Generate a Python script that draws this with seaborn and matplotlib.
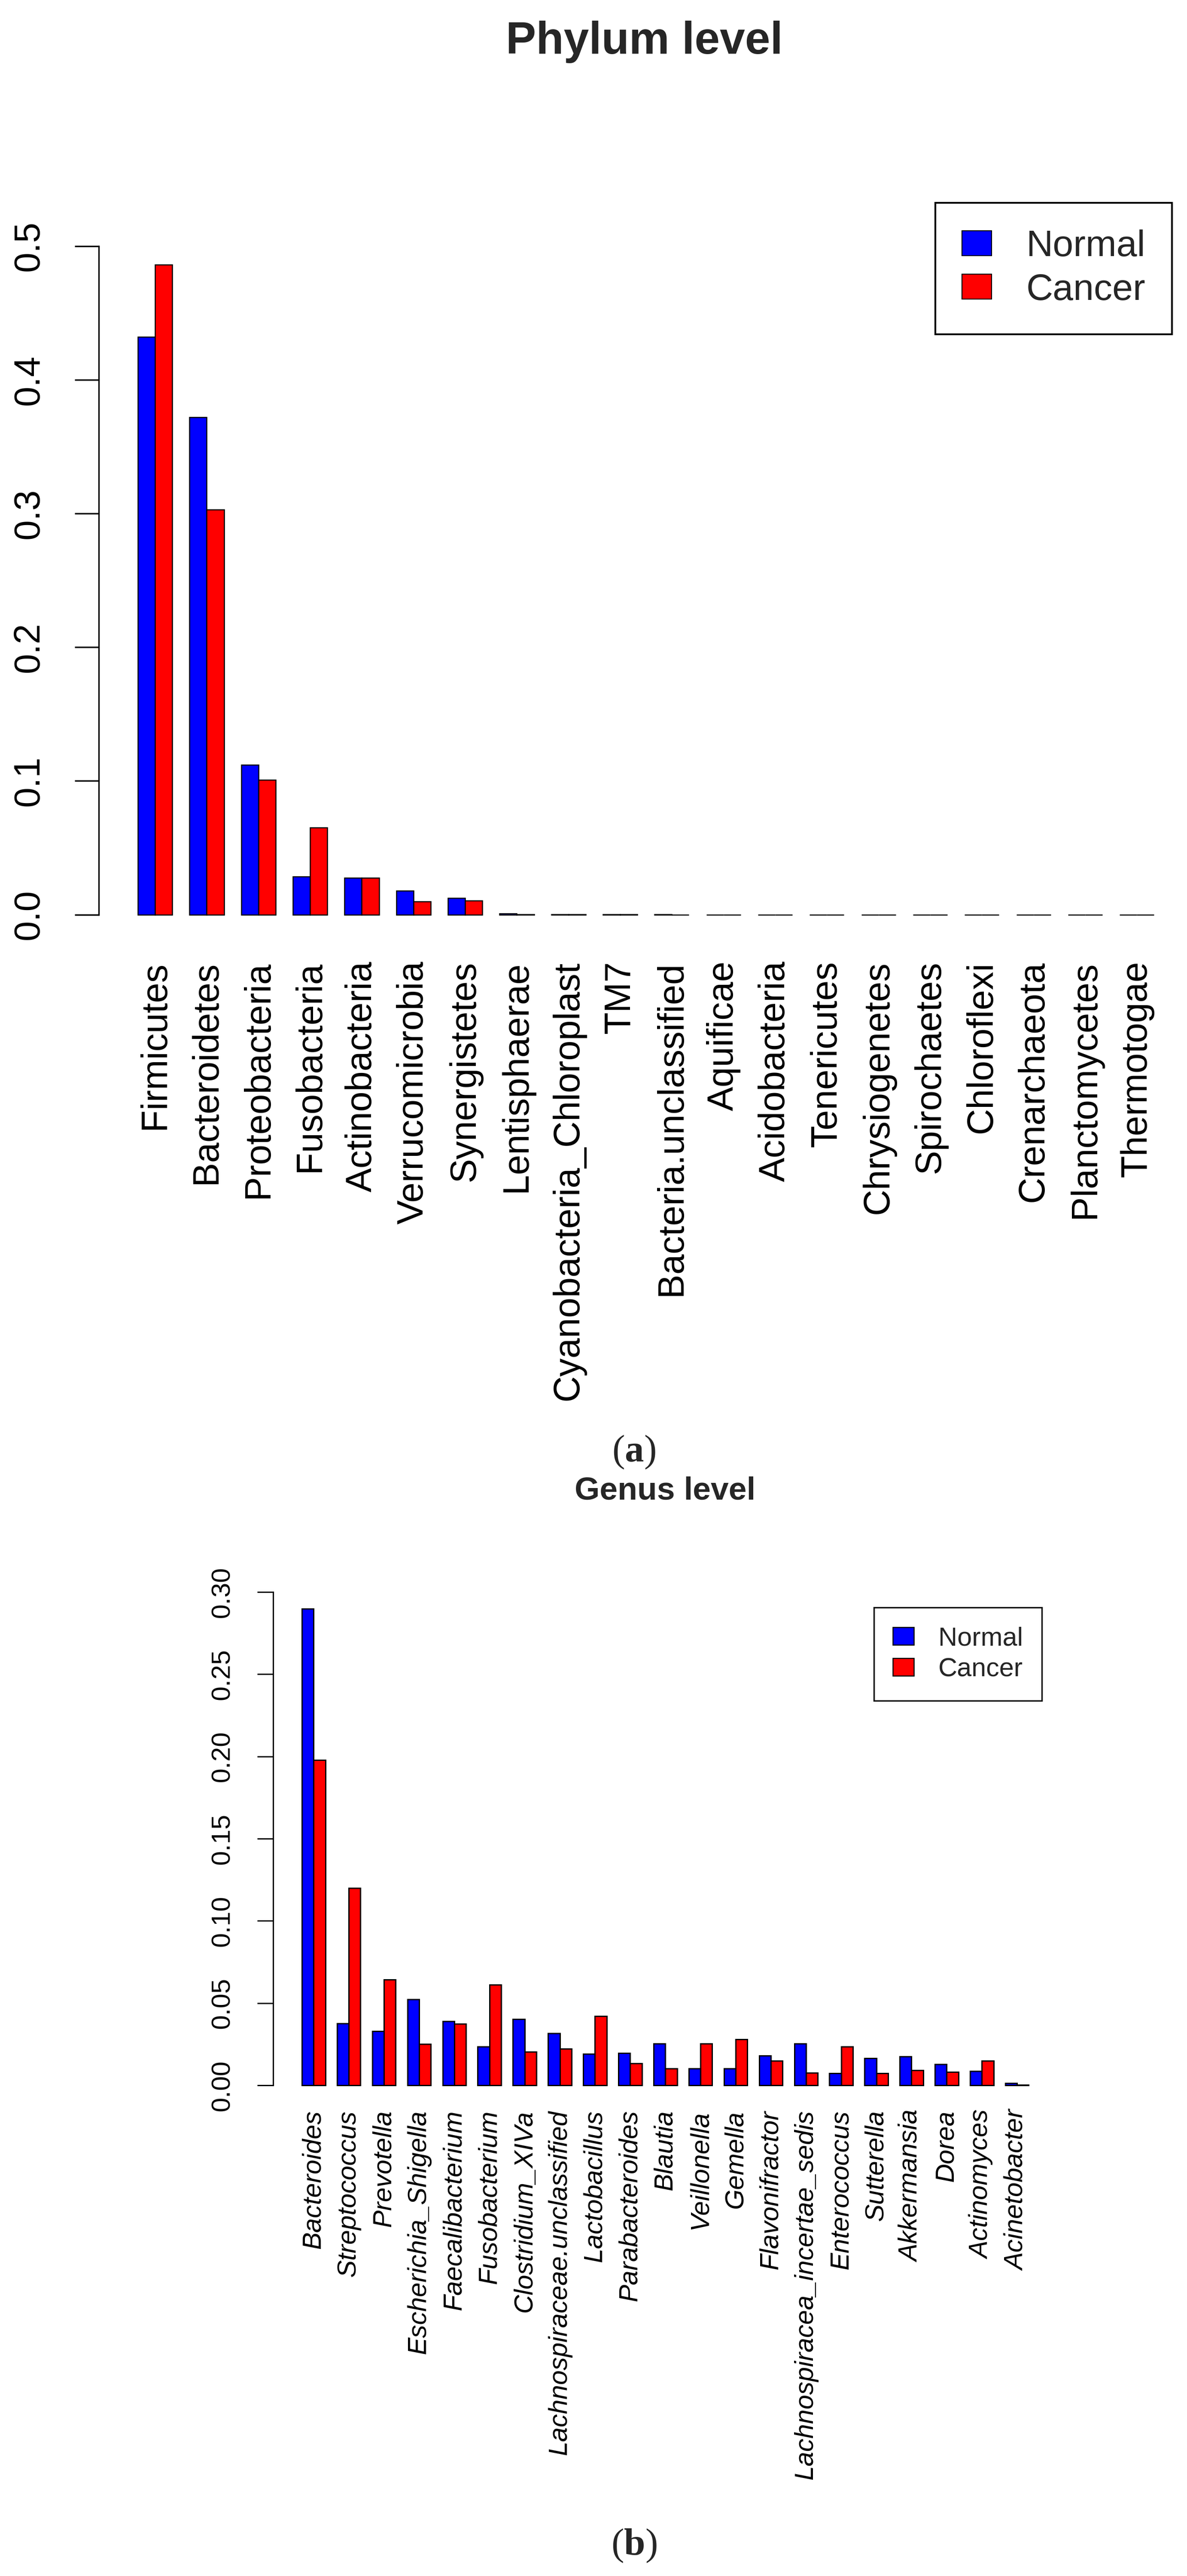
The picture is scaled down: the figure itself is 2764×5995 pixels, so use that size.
import pandas as pd
import matplotlib
matplotlib.use("Agg")
import matplotlib.pyplot as plt
import seaborn as sns
from matplotlib.patches import Patch

# Data
phylum = ['Firmicutes', 'Bacteroidetes', 'Proteobacteria', 'Fusobacteria', 'Actinobacteria',
          'Verrucomicrobia', 'Synergistetes', 'Lentisphaerae', 'Cyanobacteria_Chloroplast', 'TM7',
          'Bacteria.unclassified', 'Aquificae', 'Acidobacteria', 'Tenericutes', 'Chrysiogenetes',
          'Spirochaetes', 'Chloroflexi', 'Crenarchaeota', 'Planctomycetes', 'Thermotogae']
phylum_normal = [0.432, 0.372, 0.112, 0.0283, 0.0274, 0.0177, 0.0123, 0.0009, 0.0002, 0.0001,
                 0.0001, 0.0, 0.0, 0.0, 0.0, 0.0, 0.0, 0.0, 0.0, 0.0]
phylum_cancer = [0.486, 0.303, 0.1006, 0.0651, 0.0274, 0.0097, 0.0106, 0.0003, 0.0001, 0.0001,
                 0.0, 0.0, 0.0, 0.0, 0.0, 0.0, 0.0, 0.0, 0.0, 0.0]

genus = ['Bacteroides', 'Streptococcus', 'Prevotella', 'Escherichia_Shigella', 'Faecalibacterium',
         'Fusobacterium', 'Clostridium_XIVa', 'Lachnospiraceae.unclassified', 'Lactobacillus',
         'Parabacteroides', 'Blautia', 'Veillonella', 'Gemella', 'Flavonifractor',
         'Lachnospiracea_incertae_sedis', 'Enterococcus', 'Sutterella', 'Akkermansia', 'Dorea',
         'Actinomyces', 'Acinetobacter']
genus_normal = [0.2898, 0.0377, 0.0329, 0.0523, 0.0390, 0.0234, 0.0402, 0.0317, 0.0190, 0.0196,
                0.0253, 0.0101, 0.0101, 0.0181, 0.0253, 0.0073, 0.0165, 0.0174, 0.0127, 0.0086, 0.0013]
genus_cancer = [0.1977, 0.1200, 0.0643, 0.0250, 0.0374, 0.0611, 0.0203, 0.0222, 0.0421, 0.0133,
                0.0101, 0.0253, 0.0279, 0.0149, 0.0076, 0.0234, 0.0073, 0.0092, 0.0082, 0.0149, 0.0003]

groups = ['Normal', 'Cancer']
colors = {'Normal': 'blue', 'Cancer': 'red'}

sns.set_theme(style='white')
plt.rcParams['font.family'] = ['Liberation Sans', 'DejaVu Sans']
plt.rcParams['mathtext.fontset'] = 'custom'
plt.rcParams['mathtext.rm'] = 'Liberation Serif'
plt.rcParams['mathtext.bf'] = 'Liberation Serif:bold'

W, H = 2764, 5995
fig = plt.figure(figsize=(W / 100, H / 100), dpi=100)
fig.patch.set_facecolor('white')


def px_axes(left, top, right, bottom):
    return fig.add_axes([left / W, 1 - bottom / H, (right - left) / W, (bottom - top) / H])


def long_table(names, normal, cancer):
    return pd.DataFrame({
        'taxon': names * 2,
        'group': ['Normal'] * len(names) + ['Cancer'] * len(names),
        'value': normal + cancer,
    })


def draw_panel(ax, names, normal, cancer, bar_lw, yticks, ylabels, xlim, ylim,
               fs, tick_len, tick_w, tick_pad, lab_pad, italic):
    df = long_table(names, normal, cancer)
    sns.barplot(data=df, x='taxon', y='value', hue='group', order=names, hue_order=groups,
                palette=colors, saturation=1, width=2 / 3, gap=0, dodge=True,
                edgecolor='black', linewidth=bar_lw, errorbar=None, legend=False, ax=ax)
    ax.set_xlabel('')
    ax.set_ylabel('')
    ax.set_xlim(*xlim)
    ax.set_ylim(*ylim)
    ax.set_yticks(yticks)
    ax.set_yticklabels(ylabels, rotation=90, va='center', fontsize=fs)
    ax.set_xticks(range(len(names)))
    ax.set_xticklabels(names, rotation=90, ha='center', va='top', fontsize=fs,
                       fontstyle='italic' if italic else 'normal')
    ax.tick_params(axis='y', direction='out', length=tick_len, width=tick_w, pad=tick_pad,
                   colors='black', left=True)
    ax.tick_params(axis='x', length=0, pad=lab_pad, colors='black')
    sns.despine(ax=ax, bottom=True)
    ax.spines['left'].set_bounds(yticks[0], yticks[-1])
    ax.spines['left'].set_linewidth(tick_w)
    ax.spines['left'].set_color('black')
    ax.set_facecolor('white')


def add_legend(right, top, fs, frame_lw, edge_lw):
    handles = [Patch(facecolor=colors[g], edgecolor='black', linewidth=edge_lw, label=g)
               for g in groups]
    leg = fig.legend(handles=handles, loc='upper right', bbox_to_anchor=(right / W, 1 - top / H),
                     bbox_transform=fig.transFigure, fontsize=fs, frameon=True, fancybox=False,
                     framealpha=1, edgecolor='black', borderpad=0.72, handlelength=0.81,
                     handleheight=0.66, handletextpad=0.93, labelspacing=0.25, borderaxespad=0)
    leg.get_frame().set_linewidth(frame_lw)


# Panel (a): phylum level
ax1 = px_axes(230, 473, 2764, 2192)
draw_panel(ax1, phylum, phylum_normal, phylum_cancer, bar_lw=1.8,
           yticks=[0, 0.1, 0.2, 0.3, 0.4, 0.5],
           ylabels=['0.0', '0.1', '0.2', '0.3', '0.4', '0.5'],
           xlim=(-1.09, 19.97), ylim=(-0.0204, 0.532),
           fs=61, tick_len=40, tick_w=2.5, tick_pad=48, lab_pad=32, italic=False)
add_legend(2729, 472, fs=62, frame_lw=3, edge_lw=1.5)
fig.text(1500 / W, 1 - 125 / H, 'Phylum level', ha='center', va='baseline',
         fontsize=76, fontweight='bold')
fig.text(1476 / W, 1 - 3380 / H, r'($\mathbf{a}$)', ha='center', va='center',
         fontsize=64, family='Liberation Serif')

# Panel (b): genus level
ax2 = px_axes(636, 3700, 2464, 4900)
draw_panel(ax2, genus, genus_normal, genus_cancer, bar_lw=2.2,
           yticks=[0, 0.05, 0.10, 0.15, 0.20, 0.25, 0.30],
           ylabels=['0.00', '0.05', '0.10', '0.15', '0.20', '0.25', '0.30'],
           xlim=(-1.151, 21.17), ylim=(-0.01228, 0.3013),
           fs=44, tick_len=27, tick_w=2.2, tick_pad=37, lab_pad=8, italic=True)
add_legend(2426, 3741, fs=44, frame_lw=2.4, edge_lw=1.8)
fig.text(1549 / W, 1 - 3490 / H, 'Genus level', ha='center', va='baseline',
         fontsize=54, fontweight='bold')
fig.text(1476 / W, 1 - 5925 / H, r'($\mathbf{b}$)', ha='center', va='center',
         fontsize=64, family='Liberation Serif')

fig.savefig('out.png', dpi=100, facecolor='white')
